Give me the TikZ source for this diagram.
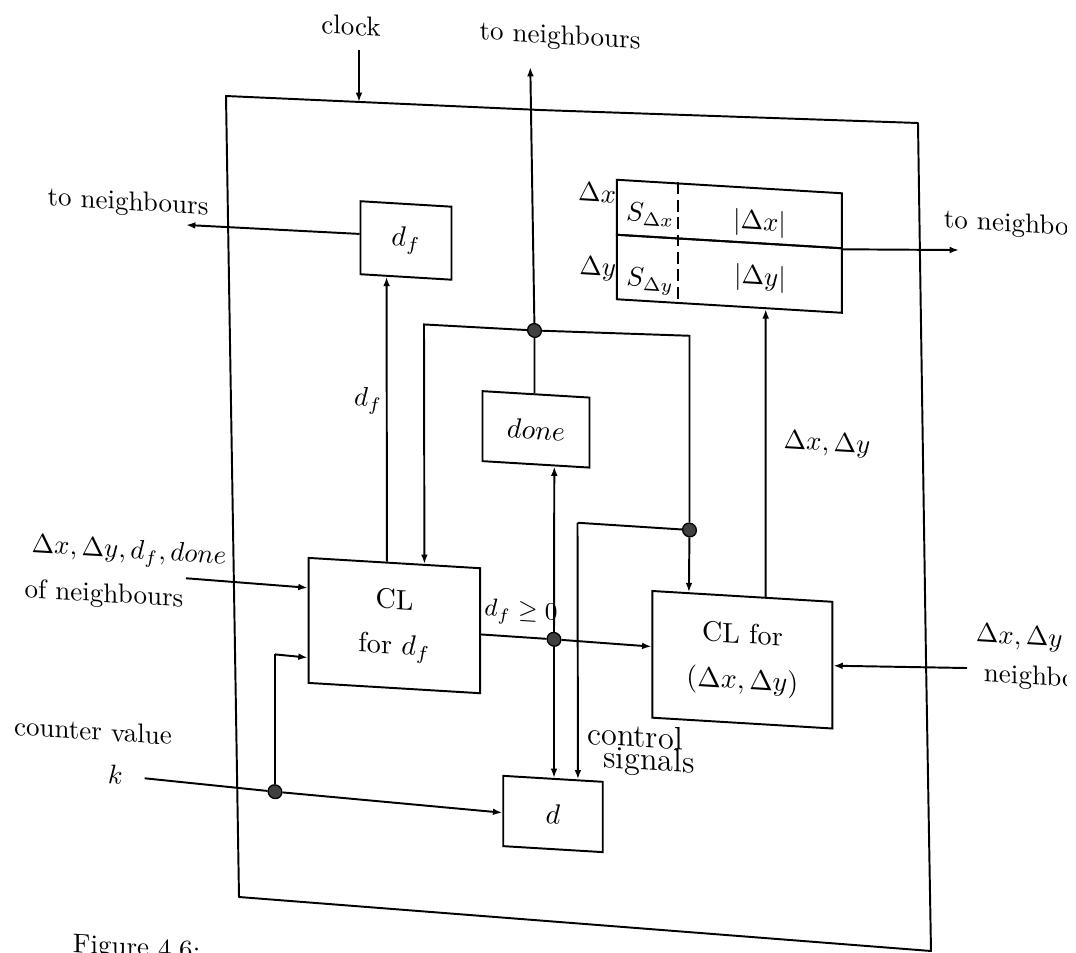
\RequirePackage{fix-cm}
\documentclass[tikz,border=0pt]{standalone}
\usetikzlibrary{arrows.meta,calc}
\begin{document}
\begin{tikzpicture}[x=0.385pt,y=-0.385pt,line width=0.75pt,
  font=\fontsize{10.4}{12.5}\selectfont,
  box/.style={draw,rectangle,inner sep=0pt,line width=0.75pt,font=\fontsize{10.8}{13}\selectfont},
  arr/.style={-{Latex[length=3.6pt,width=2.6pt]}},
  jdot/.style={circle,fill=black!75,draw=black,line width=0.5pt,minimum size=5.3pt,inner sep=0pt},
  lbl/.style={inner sep=0pt,anchor=base},
  regdash/.style={dash pattern=on 4.5pt off 2.2pt,line width=0.7pt}]
\useasboundingbox (0,0) rectangle (1076,953);
\begin{scope}
\clip (0,0) rectangle (1066,953);
% outer frame
\draw[line join=round] (226,96) -- (540,110) -- (918,123) -- (926,660) -- (931,951) -- (239,897) -- cycle;
\begin{scope}[yslant=-0.06,transform shape]
% blocks
\node[box,minimum width=91*0.385pt,minimum height=73*0.385pt] (dfbox) at (406,216.1) {$d_f$};
\node[box,minimum width=225*0.385pt,minimum height=55*0.385pt] (regx) at (729.4,170.26) {};
\node[box,minimum width=225*0.385pt,minimum height=64.5*0.385pt] (regy) at (729.4,230.01) {};
\node[box,minimum width=107*0.385pt,minimum height=70*0.385pt] (done) at (536,397.2) {$done$};
\node[box,align=center,minimum width=171.5*0.385pt,minimum height=125*0.385pt] (cldf) at (394.4,601.9) {CL\\[4.3pt]for $d_f$};
\node[box,align=center,minimum width=180*0.385pt,minimum height=126.7*0.385pt] (clxy) at (742.4,615.2) {CL for\\[4.6pt]$(\Delta x,\Delta y)$};
\node[box,minimum width=99.5*0.385pt,minimum height=70.3*0.385pt] (dbox) at (553,780.8) {$d$};
% register contents
\draw[regdash] ($(regx.north west)!0.2738!(regx.north east)$) -- ($(regy.south west)!0.2738!(regy.south east)$);
\node[lbl] (sdx) at (650,182.7) {$S_{\Delta x}$};
\node[lbl] (adx) at (759.5,184.4) {$|\Delta x|$};
\node[lbl] (sdy) at (650,247.7) {$S_{\Delta y}$};
\node[lbl] (ady) at (760,239.4) {$|\Delta y|$};
\node[lbl,anchor=base east] (ldx) at (617,166.3) {$\Delta x$};
\node[lbl,anchor=base east] (ldy) at (617,239.7) {$\Delta y$};
% junction dots
\node[jdot] (D1) at (534.5,298.4) {};
\node[jdot] (D2) at (689.5,488.6) {};
\node[jdot] (D3) at (554,606.1) {};
\node[jdot] (D4) at (275,775.2) {};
% free ends and bends
\coordinate (clockS) at (359,28.5);
\coordinate (clockE) at (359,80.4);
\coordinate (topT) at (530.3,35.2);
\coordinate (leftT) at (186,213.8);
\coordinate (cL1) at (424,299);
\coordinate (cR1) at (689.5,294.4);
\coordinate (cC) at (577.5,488.1);
\coordinate (kS) at (144.6,769.6);
\coordinate (cD4) at (275,637.9);
\coordinate (inS) at (186,567.1);
\coordinate (rS) at (967,610);
\coordinate (rT) at (959,192.5);
% connectors
\draw[arr] (clockS) -- (clockE);
\draw ($(done.north west)!0.486!(done.north east)$) -- (D1);
\draw[arr] (D1) -- (topT);
\draw[arr] (D1) -- (cL1) -- ($(cldf.north west)!0.673!(cldf.north east)$);
\draw (D1) -- (cR1) -- (D2);
\draw[arr] (D2) -- ($(clxy.north west)!0.206!(clxy.north east)$);
\draw (D2) -- (cC);
\draw[arr] (cC) -- ($(dbox.north west)!0.746!(dbox.north east)$);
\draw[arr] ($(dfbox.north west)!0.45!(dfbox.south west)$) -- (leftT);
\draw[arr] ($(cldf.north west)!0.457!(cldf.north east)$) -- ($(dfbox.south west)!0.291!(dfbox.south east)$);
\draw[arr] ($(clxy.north west)!0.628!(clxy.north east)$) -- ($(regy.south west)!0.66!(regy.south east)$);
\draw[arr] (regx.south east) -- (rT);
\draw ($(cldf.north east)!0.529!(cldf.south east)$) -- (D3);
\draw[arr] (D3) -- ($(clxy.north west)!0.44!(clxy.south west)$);
\draw[arr] (D3) -- ($(done.south west)!0.668!(done.south east)$);
\draw[arr] (D3) -- ($(dbox.north west)!0.51!(dbox.north east)$);
\draw (kS) -- (D4);
\draw[arr] (D4) -- ($(dbox.north west)!0.524!(dbox.south west)$);
\draw (D4) -- (cD4);
\draw[arr] (cD4) -- ($(cldf.north west)!0.793!(cldf.south west)$);
\draw[arr] (inS) -- ($(cldf.north west)!0.243!(cldf.south west)$);
\draw[arr] (rS) -- ($(clxy.north east)!0.504!(clxy.south east)$);
% labels
\node[lbl] (tclock) at (351,13.9) {clock};
\node[lbl] (ttop) at (560,10.4) {to neighbours};
\node[lbl] (tleft) at (128,202.3) {to neighbours};
\node[lbl,anchor=base west] (tright) at (943,171.1) {to neighbours};
\node[lbl,anchor=base east] (tdf) at (383,384) {$d_f$};
\node[lbl,anchor=base west] (tdxy) at (782.7,401) {$\Delta x, \Delta y$};
\node[lbl] (tin1) at (129,550.3) {$\Delta x, \Delta y, d_f, done$};
\node[lbl] (tin2) at (104,595.8) {of neighbours};
\node[lbl] (tcv) at (93,734.4) {counter value};
\node[lbl] (tk) at (115.4,777.1) {$k$};
\node[lbl] (tge) at (521,586.7) {\fontsize{9.5}{11}\selectfont $d_f \geq 0$};
\node[lbl] (tcon) at (635,708.9) {\fontsize{12.4}{14}\selectfont control};
\node[lbl] (tsig) at (649,731.1) {\fontsize{12.4}{14}\selectfont signals};
\node[lbl,anchor=base west] (trin1) at (975,583.2) {$\Delta x, \Delta y$ of};
\node[lbl,anchor=base west] (trin2) at (983,622.7) {neighbours};
\node[lbl,anchor=base west] (tcap) at (72,947.7) {Figure 4.6:};
\end{scope}
\end{scope}
\end{tikzpicture}
\end{document}
